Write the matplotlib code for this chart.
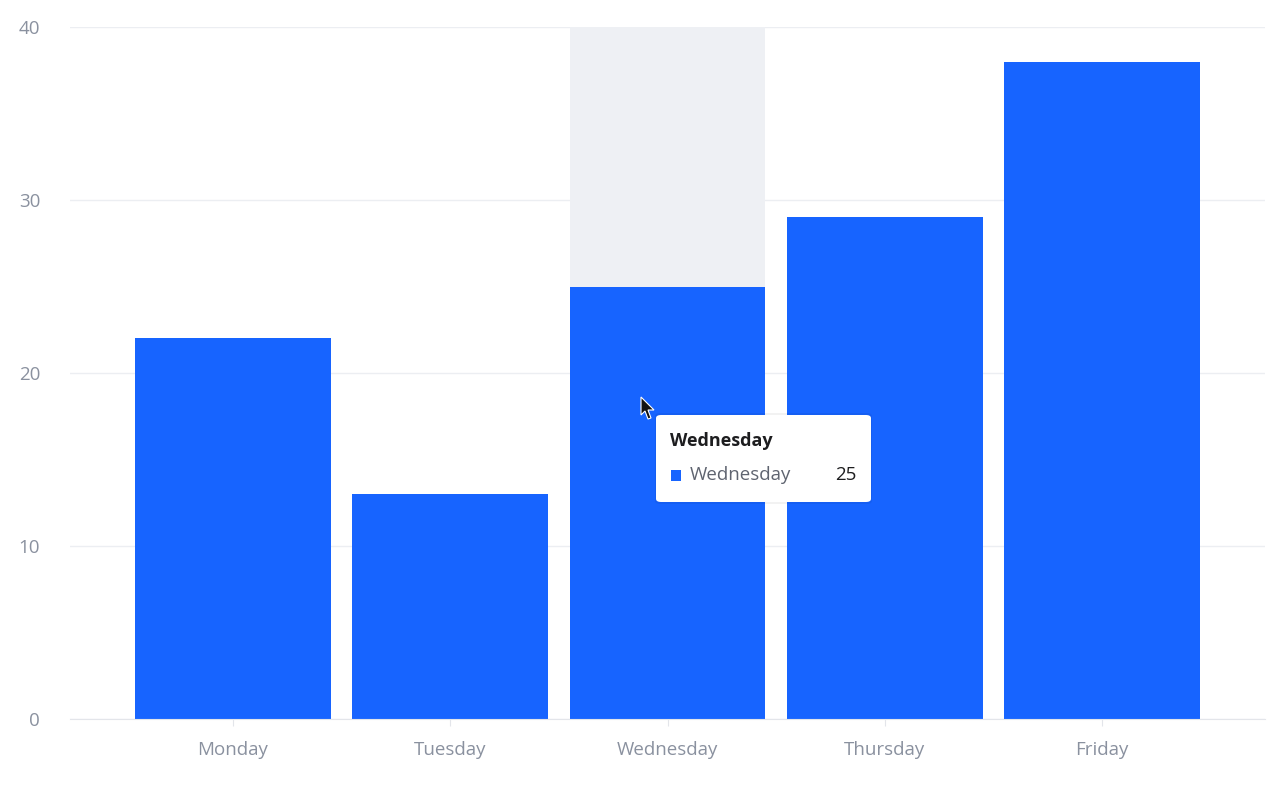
import matplotlib
matplotlib.use('Agg')
import matplotlib.pyplot as plt
from matplotlib.patches import FancyBboxPatch, Polygon, Rectangle

plt.rcParams['font.family'] = ['Open Sans', 'Noto Sans', 'DejaVu Sans']

days = ['Monday', 'Tuesday', 'Wednesday', 'Thursday', 'Friday']
values = [22, 13, 25, 29, 38]
hover_idx = 2
yticks = [0, 10, 20, 30, 40]

W, H = 1280, 791
fig = plt.figure(figsize=(W / 100, H / 100), dpi=100)
ax = fig.add_axes([70 / W, 72 / H, 1195 / W, 692 / H])

x = list(range(len(days)))
# hover background
ax.bar(x[hover_idx], yticks[-1], width=0.9, color='#eef0f4', zorder=1)
ax.bar(x, values, width=0.9, color='#1764ff', zorder=2)

ax.set_xlim(-0.75, len(days) - 0.25)
ax.set_ylim(0, 40)
ax.set_yticks(yticks)
ax.set_xticks(x)
ax.set_xticklabels(days)
ax.grid(axis='y', color='#eceef2', linewidth=1, zorder=0)
ax.set_axisbelow(True)
for s in ['top', 'right', 'left']:
    ax.spines[s].set_visible(False)
ax.spines['bottom'].set_color('#e3e5ea')
ax.tick_params(axis='y', length=0, pad=21.5, labelsize=13.5, labelcolor='#8a919f')
ax.tick_params(axis='x', length=5, color='#e3e5ea', pad=11, labelsize=13.5, labelcolor='#8a919f')

# tooltip (figure pixel coords)
def fx(px):
    return px / W

def fy(py):
    return 1 - py / H

shadow = FancyBboxPatch((fx(655), fy(504)), fx(872) - fx(655), fy(413) - fy(504),
                        boxstyle='round,pad=0,rounding_size=0.004', transform=fig.transFigure,
                        facecolor='#000000', alpha=0.05, edgecolor='none', zorder=9)
fig.patches.append(shadow)
box = FancyBboxPatch((fx(656), fy(502)), fx(871) - fx(656), fy(415) - fy(502),
                     boxstyle='round,pad=0,rounding_size=0.004', transform=fig.transFigure,
                     facecolor='white', edgecolor='none', zorder=10)
fig.patches.append(box)
fig.text(fx(670), fy(441), days[hover_idx], fontsize=13, fontweight='bold', color='#1d1d1f',
         va='center', ha='left', zorder=11)
fig.patches.append(Rectangle((fx(671), fy(481)), fx(681) - fx(671), fy(470) - fy(481),
                             transform=fig.transFigure, facecolor='#1764ff', zorder=11))
fig.text(fx(690), fy(475), days[hover_idx], fontsize=13.5, color='#5f6470',
         va='center', ha='left', zorder=11)
fig.text(fx(857), fy(475), str(values[hover_idx]), fontsize=13.5, color='#1d1d1f',
         va='center', ha='right', zorder=11)

# mouse cursor
cur = [(641, 397), (641, 415), (645, 411), (648, 419), (651, 418), (648, 410), (654, 410)]
fig.patches.append(Polygon([(fx(a), fy(b)) for a, b in cur], closed=True, transform=fig.transFigure,
                           facecolor='#111111', edgecolor='white', linewidth=0.8, zorder=12))

fig.savefig('out.png', dpi=100)
